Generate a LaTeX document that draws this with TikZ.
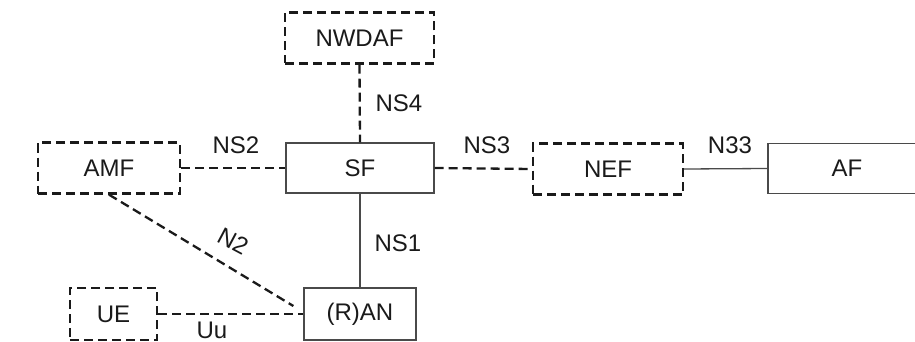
\documentclass[tikz,border=0pt]{standalone}
\usepackage{fontspec}
\setmainfont{Liberation Sans}
\usetikzlibrary{calc}
\definecolor{ink}{HTML}{1A1A1A}
\definecolor{solidln}{HTML}{4A4A4A}
\begin{document}
\begin{tikzpicture}[x=1pt,y=-1pt,
  dbox/.style={draw=ink, line width=2.3pt, dash pattern=on 9pt off 5pt, minimum height=51pt, inner sep=0pt, font=\fontsize{24}{26}\selectfont, text=ink},
  sbox/.style={draw=solidln, line width=1.3pt, minimum height=50pt, inner sep=0pt, font=\fontsize{24}{26}\selectfont, text=ink},
  dline/.style={draw=ink, line width=2.3pt, dash pattern=on 9pt off 5pt},
  sline/.style={draw=solidln, line width=1.3pt},
  lbl/.style={font=\fontsize{24}{26}\selectfont, text=ink, inner sep=0pt}]
\useasboundingbox (0,0) rectangle (915,342);
\fill[white] (0,0) rectangle (915,342);
\node[dbox, minimum width=149pt] (nwdaf) at (359.5,38) {NWDAF};
\node[sbox, minimum width=148pt] (sf) at (360,168) {SF};
\node[dbox, minimum width=142pt] (amf) at (109,168) {AMF};
\node[dbox, minimum width=150pt] (nef) at (608,169) {NEF};
\node[sbox, minimum width=158pt] (af) at (847,168.5) {AF};
\node[dbox, minimum width=87pt, minimum height=52pt] (ue) at (113.5,314) {UE};
\node[sbox, minimum width=112pt, minimum height=52pt] (ran) at (360,314) {(R)AN};
% connectors
\draw[dline] (nwdaf.south) -- (sf.north);
\draw[dline] (amf.east) -- (sf.west);
\draw[dline] (sf.east) -- (nef.west);
\draw[sline] (nef.east) -- (af.west);
\draw[sline] (sf.south) -- (ran.north);
\draw[dline] (ue.east) -- (ran.west);
\coordinate (n2end) at ($(ran.west)+(-10,-8)$);
\draw[dline] (amf.south) -- (n2end);
% labels
\node[lbl] (lns4) at (399,103) {NS4};
\node[lbl] (lns2) at (236,145) {NS2};
\node[lbl] (lns3) at (487,145) {NS3};
\node[lbl] (ln33) at (730,145) {N33};
\node[lbl] (lns1) at (398,243) {NS1};
\node[lbl] (luu) at (212,330) {Uu};
\node[lbl, rotate=-28] (ln2) at (233,241) {N2};
\end{tikzpicture}
\end{document}
